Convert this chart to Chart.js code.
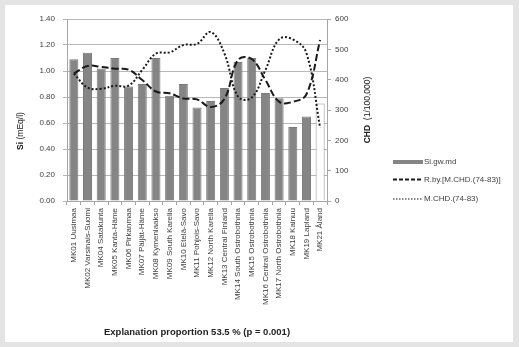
<!DOCTYPE html>
<html>
<head>
<meta charset="utf-8">
<script src="https://cdn.jsdelivr.net/npm/chart.js@4"></script>
<style>
  html, body { margin: 0; padding: 0; background: #e4e4e4; }
  #panel { position: absolute; left: 5px; top: 5px; width: 508px; height: 337px; background: #fff; }
  canvas { display: block; }
</style>
</head>
<body>
<div id="panel"><canvas id="chart" width="508" height="337"></canvas></div>
<script>
'use strict';

// regions
const regions = ['MK01 Uusimaa', 'MK02 Varsinais-Suomi', 'MK04 Satakunta', 'MK05 Kanta-Häme', 'MK06 Pirkanmaa',
  'MK07 Päijät-Häme', 'MK08 Kymenlaakso', 'MK09 South Karelia', 'MK10 Etelä-Savo', 'MK11 Pohjois-Savo',
  'MK12 North Karelia', 'MK13 Central Finland', 'MK14 South Ostrobothnia', 'MK15 Ostrobothnia',
  'MK16 Central Ostrobothnia', 'MK17 North Ostrobothnia', 'MK18 Kainuu', 'MK19 Lapland', 'MK21 Åland'];

// Si (mEq/l), left axis
const siValues = [1.09, 1.14, 1.02, 1.10, 0.88, 0.90, 1.10, 0.81, 0.90, 0.72, 0.77, 0.87, 1.07, 1.10, 0.83, 0.79, 0.57, 0.65, 0.75];
// CHD (1/100,000), right axis
const rbyValues = [420, 445, 442, 436, 433, 399, 361, 355, 338, 335, 310, 336, 465, 468, 399, 327, 327, 352, 531];
const mchdValues = [420, 374, 370, 380, 380, 432, 486, 490, 514, 518, 557, 487, 344, 341, 432, 533, 533, 487, 241];

const seriesNames = ['Si.gw.md', 'R.by.[M.CHD.(74-83)]', 'M.CHD.(74-83)'];

const FONT = 'Liberation Sans';
const TEXT = '#404040';
const BAR = '#858585';

const barFill = regions.map((r, i) => i === regions.length - 1 ? '#ffffff' : BAR);
const barEdge = regions.map((r, i) => i === regions.length - 1 ? '#999999' : '#7a7a7a');

function rotatedTitle(ctx, x, y, boldPart, rest) {
  ctx.save();
  ctx.translate(x, y);
  ctx.rotate(-Math.PI / 2);
  ctx.fillStyle = '#222';
  ctx.textBaseline = 'middle';
  ctx.font = 'bold 8.5px ' + FONT;
  const w1 = ctx.measureText(boldPart).width;
  ctx.font = '8.5px ' + FONT;
  const w2 = ctx.measureText(rest).width;
  let start = -(w1 + w2) / 2;
  ctx.font = 'bold 8.5px ' + FONT;
  ctx.textAlign = 'left';
  ctx.fillText(boldPart, start, 0);
  ctx.font = '8.5px ' + FONT;
  ctx.fillText(rest, start + w1, 0);
  ctx.restore();
}

const extras = {
  id: 'extras',
  afterDraw(chart) {
    const ctx = chart.ctx;
    const a = chart.chartArea;
    rotatedTitle(ctx, 16, (a.top + a.bottom) / 2 + 21, 'Si', ' (mEq/l)');
    rotatedTitle(ctx, a.right + 41, (a.top + a.bottom) / 2, 'CHD', '  (1/100,000)');

    // legend
    const lx = 388, tx = 419;
    const rows = [157, 174.5, 194];
    ctx.save();
    ctx.fillStyle = BAR;
    ctx.fillRect(lx, rows[0] - 2, 30, 4);
    ctx.strokeStyle = '#1a1a1a';
    ctx.lineWidth = 2;
    ctx.setLineDash([4, 2]);
    ctx.beginPath(); ctx.moveTo(lx, rows[1]); ctx.lineTo(lx + 30, rows[1]); ctx.stroke();
    ctx.lineWidth = 1.2;
    ctx.setLineDash([1.5, 1.5]);
    ctx.beginPath(); ctx.moveTo(lx, rows[2]); ctx.lineTo(lx + 30, rows[2]); ctx.stroke();
    ctx.setLineDash([]);
    ctx.fillStyle = TEXT;
    ctx.font = '8px ' + FONT;
    ctx.textBaseline = 'middle';
    ctx.textAlign = 'left';
    seriesNames.forEach((n, i) => ctx.fillText(n, tx, rows[i]));
    ctx.restore();
  }
};

new Chart(document.getElementById('chart'), {
  type: 'bar',
  data: {
    labels: regions,
    datasets: [
      {
        type: 'line', label: seriesNames[1], data: rbyValues, yAxisID: 'y1', order: 1,
        borderColor: '#1a1a1a', borderWidth: 2, borderDash: [7, 3], pointRadius: 0, tension: 0.4, fill: false
      },
      {
        type: 'line', label: seriesNames[2], data: mchdValues, yAxisID: 'y1', order: 1,
        borderColor: '#1a1a1a', borderWidth: 2, borderDash: [2, 2], pointRadius: 0, tension: 0.4, fill: false
      },
      {
        label: seriesNames[0], data: siValues, yAxisID: 'y', order: 2,
        backgroundColor: barFill, borderColor: barEdge, borderWidth: 1,
        categoryPercentage: 1, barPercentage: 0.66
      }
    ]
  },
  options: {
    responsive: false,
    animation: false,
    layout: { padding: { top: 14, left: 0, right: 0, bottom: 0 } },
    plugins: { legend: { display: false }, tooltip: { enabled: false } },
    scales: {
      x: {
        offset: true,
        grid: { display: true, drawOnChartArea: false, offset: true, tickLength: 4, color: '#a6a6a6' },
        border: { color: '#a6a6a6' },
        ticks: { autoSkip: false, minRotation: 90, maxRotation: 90, padding: 3, color: TEXT, font: { family: FONT, size: 8 } },
        title: { display: true, text: 'Explanation proportion 53.5 % (p = 0.001)', color: '#222',
          font: { family: FONT, size: 9.5, weight: 'bold' }, padding: { top: 4, bottom: 4 } },
        afterFit(s) { s.height = 141; }
      },
      y: {
        position: 'left', min: 0, max: 1.4,
        grid: { color: '#b8b8b8', tickLength: 4 },
        border: { color: '#a6a6a6' },
        ticks: { stepSize: 0.2, padding: 8, color: TEXT, font: { family: FONT, size: 8 },
          callback: v => v.toFixed(2) },
        afterFit(s) { s.width = 62; }
      },
      y1: {
        position: 'right', min: 0, max: 600,
        grid: { drawOnChartArea: false, tickLength: 4, color: '#a6a6a6' },
        border: { color: '#a6a6a6' },
        ticks: { stepSize: 100, padding: 4, color: TEXT, font: { family: FONT, size: 8 } },
        afterFit(s) { s.width = 186; }
      }
    }
  },
  plugins: [extras]
});
</script>
</body>
</html>
